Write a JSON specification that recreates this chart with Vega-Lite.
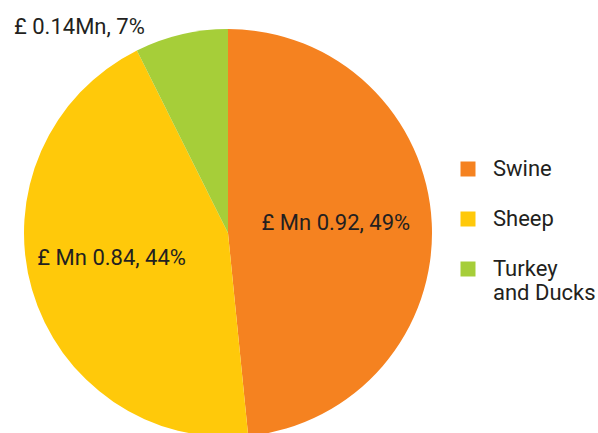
{
  "$schema": "https://vega.github.io/schema/vega-lite/v6.json",
  "width": 408,
  "height": 408,
  "padding": {"left": 24, "top": 29, "right": 166, "bottom": 0},
  "autosize": {"type": "none"},
  "background": "white",
  "config": {"view": {"stroke": null}, "font": "Roboto"},
  "data": {
    "values": [
      {"category": "Swine", "value": 0.92, "label": "£ Mn 0.92, 49%", "order": 1},
      {"category": "Sheep", "value": 0.84, "label": "£ Mn 0.84, 44%", "order": 2},
      {"category": "Turkey and Ducks", "value": 0.14, "label": "£ 0.14Mn, 7%", "order": 3}
    ]
  },
  "encoding": {
    "theta": {"field": "value", "type": "quantitative", "stack": true},
    "order": {"field": "order", "type": "quantitative"}
  },
  "layer": [
    {
      "mark": {"type": "arc"},
      "encoding": {
        "color": {
          "field": "category",
          "type": "nominal",
          "scale": {"domain": ["Swine", "Sheep", "Turkey and Ducks"], "range": ["#F58220", "#FFC90A", "#A6CE39"]},
          "legend": {
            "title": null,
            "orient": "none",
            "legendX": 433,
            "legendY": 129,
            "symbolType": "square",
            "symbolSize": 225,
            "symbolStrokeWidth": 0,
            "labelFont": "Roboto",
            "labelFontSize": 22,
            "labelColor": "#231F20",
            "labelOffset": 14,
            "rowPadding": 28,
            "labelLineHeight": 32,
            "labelExpr": "datum.label == 'Turkey and Ducks' ? ['Turkey', 'and Ducks'] : datum.label"
          }
        }
      }
    },
    {
      "mark": {"type": "text", "radius": 108, "dy": -5, "fontSize": 22, "color": "#231F20"},
      "encoding": {"text": {"condition": {"test": "datum.order == 1", "field": "label"}, "value": ""}}
    },
    {
      "mark": {"type": "text", "radius": 118, "dx": -3, "dy": -8, "fontSize": 22, "color": "#231F20"},
      "encoding": {"text": {"condition": {"test": "datum.order == 2", "field": "label"}, "value": ""}}
    },
    {
      "mark": {"type": "text", "radius": 212, "dx": -100, "dy": 0, "fontSize": 22, "color": "#231F20"},
      "encoding": {"text": {"condition": {"test": "datum.order == 3", "field": "label"}, "value": ""}}
    }
  ]
}
